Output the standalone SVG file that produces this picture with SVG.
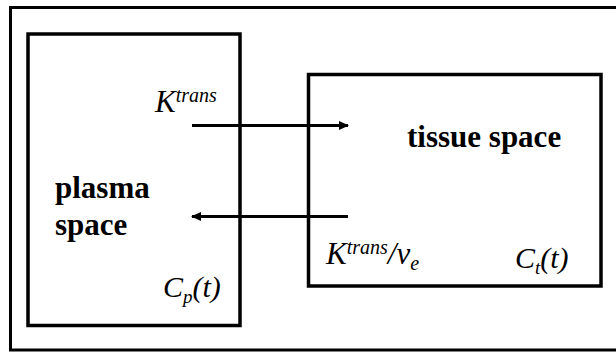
<svg xmlns="http://www.w3.org/2000/svg" width="616" height="354" viewBox="0 0 616 354">
<defs>
<marker id="ah" markerWidth="10" markerHeight="9" refX="9" refY="4.5" orient="auto" markerUnits="userSpaceOnUse">
<path d="M0,0 L10,4.5 L0,9 Z" fill="#000"/>
</marker>
</defs>
<style>
.box{fill:none;stroke:#000;stroke-width:3.5}
.conn{fill:none;stroke:#000;stroke-width:3}
.lbl{font-family:'Liberation Serif','Times New Roman',serif;font-weight:bold;font-size:31px;fill:#000}
.math{font-family:'Liberation Serif','Times New Roman',serif;font-style:italic;font-size:30px;fill:#000}
.k{font-size:31px}
.sm{font-size:19px}
.sup{font-size:20px}
</style>
<rect x="0" y="0" width="616" height="354" fill="#fff"/>
<g id="frame"><rect x="10.5" y="7.5" width="615" height="342.5" fill="none" stroke="#000" stroke-width="3"/></g>
<g id="plasma">
<rect class="box" x="28" y="34" width="212" height="291.5"/>
<text class="lbl" x="55" y="198">plasma</text>
<text class="lbl" x="55" y="235">space</text>
<text class="math" x="163" y="297">C<tspan class="sm" dy="6">p</tspan><tspan dy="-6">(t)</tspan></text>
</g>
<g id="tissue">
<rect class="box" x="308.5" y="74.5" width="292.5" height="211.5"/>
<text class="lbl" x="407" y="147">tissue space</text>
<text class="math" x="515" y="268">C<tspan class="sm" dy="6">t</tspan><tspan dy="-6">(t)</tspan></text>
</g>
<g id="connectors">
<line class="conn" x1="192" y1="125.5" x2="348" y2="125.5" marker-end="url(#ah)"/>
<line class="conn" x1="348" y1="216.5" x2="192" y2="216.5" marker-end="url(#ah)"/>
<text class="math k" x="155" y="112">K<tspan class="sup" dy="-10">trans</tspan></text>
<text class="math k" x="326" y="264">K<tspan class="sup" dy="-10">trans</tspan><tspan dy="10">/v</tspan><tspan class="sup" dy="6">e</tspan></text>
</g>
</svg>
